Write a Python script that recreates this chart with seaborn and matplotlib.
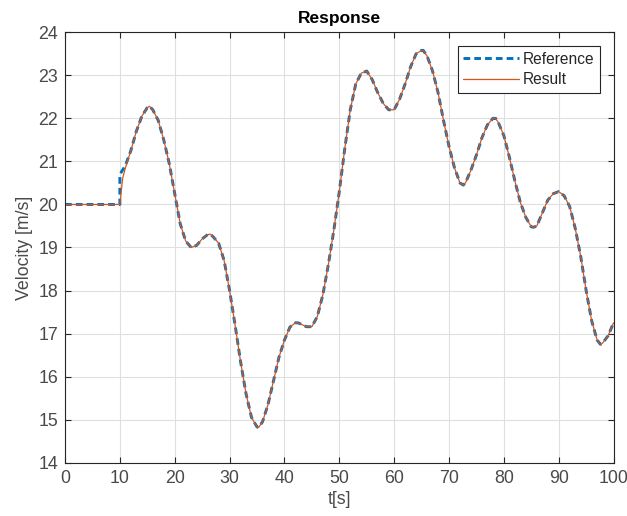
import numpy as np
import pandas as pd
import matplotlib
matplotlib.use("Agg")
import matplotlib.pyplot as plt
import seaborn as sns

# Result series
res_t = [0, 10, 10.5, 11, 12, 13, 14, 15, 15.4, 16, 17, 18, 19, 20, 21, 22, 23, 24, 25, 26,
         26.5, 27, 28, 29, 30, 31, 32, 33, 34, 35, 35.3, 36, 37, 38, 39, 40, 41, 42, 42.5, 43,
         44, 45, 46, 47, 48, 49, 50, 51, 52, 53, 54, 55, 56, 57, 58, 59, 60, 61, 62, 63, 64,
         65, 65.3, 66, 67, 68, 69, 70, 71, 72, 72.6, 73, 74, 75, 76, 77, 78, 78.5, 79, 80, 81,
         82, 83, 84, 85, 85.4, 86, 87, 88, 89, 90, 91, 92, 93, 94, 95, 96, 97, 97.6, 98, 99, 100]
res_v = [20, 20, 20.6, 20.85, 21.25, 21.7, 22.05, 22.25, 22.28, 22.2, 21.95, 21.5, 20.95, 20.25,
         19.55, 19.15, 19.0, 19.05, 19.2, 19.3, 19.31, 19.25, 19.1, 18.7, 18.0, 17.2, 16.35, 15.6,
         15.05, 14.83, 14.82, 14.95, 15.35, 15.9, 16.45, 16.85, 17.15, 17.25, 17.25, 17.22, 17.16,
         17.16, 17.4, 17.9, 18.6, 19.4, 20.3, 21.3, 22.2, 22.8, 23.05, 23.1, 22.9, 22.6, 22.35,
         22.2, 22.2, 22.45, 22.8, 23.2, 23.5, 23.58, 23.58, 23.45, 23.1, 22.6, 21.95, 21.35, 20.85,
         20.5, 20.45, 20.5, 20.8, 21.15, 21.55, 21.85, 22.0, 22.0, 21.9, 21.6, 21.1, 20.55, 20.05,
         19.7, 19.48, 19.47, 19.5, 19.8, 20.1, 20.25, 20.3, 20.2, 19.95, 19.45, 18.8, 18.0, 17.3,
         16.85, 16.75, 16.78, 16.95, 17.25]

# Reference series: step at t=10
ref_t = [0, 10, 10, 11] + res_t[4:]
ref_v = [20, 20, 20.7, 20.9] + res_v[4:]

series_names = ["Reference", "Result"]

df = pd.concat([
    pd.DataFrame({"t": ref_t, "v": ref_v, "series": series_names[0]}),
    pd.DataFrame({"t": res_t, "v": res_v, "series": series_names[1]}),
])

sns.set_theme(style="ticks")
plt.rcParams['font.family'] = ['Liberation Sans', 'DejaVu Sans']

fig = plt.figure(figsize=(6.27, 5.16), dpi=100)
ax = fig.add_axes([0.1037, 0.1033, 0.8749, 0.8341])

sns.lineplot(data=df[df.series == "Reference"], x="t", y="v", sort=False, estimator=None,
             color="#0072BD", lw=2.1, ax=ax, label="Reference")
ax.lines[-1].set_dashes([2.3, 1.4])
sns.lineplot(data=df[df.series == "Result"], x="t", y="v", sort=False, estimator=None,
             color="#D95319", lw=0.9, ax=ax, label="Result")

ax.set_xlim(0, 100)
ax.set_ylim(14, 24)
ax.set_xticks(np.arange(0, 101, 10))
ax.set_yticks(np.arange(14, 25, 1))
ax.grid(True, color="#dfdfdf", lw=0.8)
ax.set_axisbelow(True)
for s in ax.spines.values():
    s.set_color("#262626")
    s.set_linewidth(0.8)
    s.set_visible(True)
ax.tick_params(direction="in", length=4, width=0.8, colors="#262626", labelcolor="#4a4a4a",
               labelsize=12.8, top=True, right=True, pad=5)
ax.set_xlabel("t[s]", fontsize=12.8, color="#4a4a4a", labelpad=3)
ax.set_ylabel("Velocity [m/s]", fontsize=12.8, color="#4a4a4a", labelpad=4)
ax.set_title("Response", fontsize=12.5, fontweight="bold", color="black", pad=7)

leg = ax.legend(loc="upper right", fontsize=11.2, frameon=True, fancybox=False,
                edgecolor="#262626", framealpha=1, handlelength=3.6, borderpad=0.35,
                labelspacing=0.35, handletextpad=0.2, borderaxespad=0.9)
leg.get_frame().set_linewidth(0.8)

fig.savefig("out.png", dpi=100)
